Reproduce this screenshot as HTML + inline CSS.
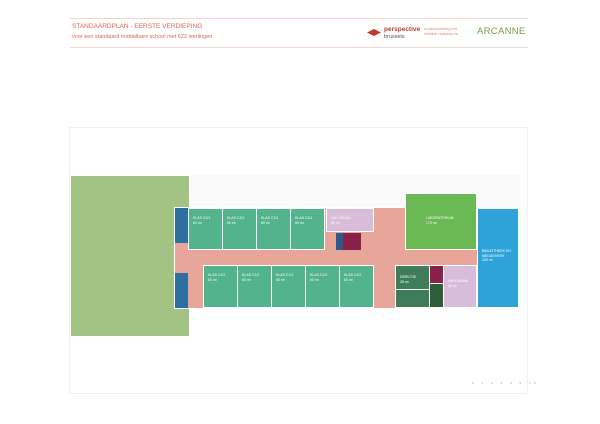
<!DOCTYPE html>
<html><head><meta charset="utf-8"><style>
body{margin:0;width:600px;height:424px;background:#fff;position:relative;overflow:hidden;font-family:"Liberation Sans",sans-serif}
div{position:absolute;box-sizing:border-box}
.r{color:#fff;font-size:3.5px;line-height:4.5px;padding:7px 0 0 4px}
.c{background:#52b38c;border:1px solid #fff}
</style></head><body>
<div style="left:70px;top:18px;width:458px;height:1px;background:#f2d6d4"></div>
<div style="left:70px;top:47px;width:458px;height:1px;background:#f2d6d4"></div>
<div style="left:72px;top:23px;font-size:6.5px;color:#d9655a">STANDAARDPLAN - EERSTE VERDIEPING</div>
<div style="left:72px;top:34px;font-size:5.5px;color:#d9655a">voor een standaard middelbare school met 622 leerlingen</div>
<div style="left:367px;top:29px;width:14px;height:7px;background:#c0392b;clip-path:polygon(50% 0,100% 50%,50% 100%,0 50%)"></div>
<div style="left:384px;top:26px;font-size:6.5px;color:#c0392b;font-weight:bold">perspective</div>
<div style="left:384px;top:34px;font-size:5.5px;color:#555">brussels</div>
<div style="left:424px;top:27px;font-size:3.5px;color:#e08a80;line-height:5px">in samenwerking met<br>Mathilde Haskamp ea</div>
<div style="left:477px;top:26px;font-size:9.5px;color:#7a9a4a;letter-spacing:0.3px">ARCANNE</div>
<div style="left:69px;top:127px;width:459px;height:267px;border:1px solid #f0f0f0"></div>
<div style="left:190px;top:175px;width:330px;height:33px;background:#fafafa"></div>
<div style="left:71px;top:176px;width:118px;height:160px;background:#a3c385"></div>
<div style="left:174px;top:207px;width:304px;height:102px;background:#e8a59a;border:1px solid #fff"></div>
<div style="left:175px;top:208px;width:13px;height:35px;background:#2c6fa0"></div>
<div style="left:175px;top:273px;width:13px;height:35px;background:#2c6fa0"></div>
<div class="c r" style="left:188px;top:208px;width:35px;height:42px">KLAS C2/1<br>60 m²</div>
<div class="c r" style="left:222px;top:208px;width:35px;height:42px">KLAS C2/1<br>60 m²</div>
<div class="c r" style="left:256px;top:208px;width:35px;height:42px">KLAS C2/1<br>60 m²</div>
<div class="c r" style="left:290px;top:208px;width:35px;height:42px">KLAS C2/1<br>60 m²</div>
<div class="r" style="left:326px;top:208px;width:48px;height:24px;background:#d9bcd9;border:1px solid #fff">VAKLOKAAL<br>60 m²</div>
<div style="left:336px;top:233px;width:7px;height:17px;background:#2c5a8a"></div>
<div style="left:343px;top:233px;width:18px;height:17px;background:#8a1f4a"></div>
<div class="c r" style="left:203px;top:265px;width:35px;height:43px">KLAS C1/2<br>60 m²</div>
<div class="c r" style="left:237px;top:265px;width:35px;height:43px">KLAS C1/2<br>60 m²</div>
<div class="c r" style="left:271px;top:265px;width:35px;height:43px">KLAS C1/2<br>60 m²</div>
<div class="c r" style="left:305px;top:265px;width:35px;height:43px">KLAS C1/2<br>60 m²</div>
<div class="c r" style="left:339px;top:265px;width:35px;height:43px">KLAS C1/2<br>60 m²</div>
<div class="r" style="left:405px;top:193px;width:72px;height:57px;background:#6ab955;border:1px solid #fff;padding:22px 0 0 20px">LABORATORIUM<br>170 m²</div>
<div class="r" style="left:477px;top:208px;width:42px;height:100px;background:#2ea3d9;border:1px solid #fff;padding:40px 0 0 4px">BIBLIOTHEEK EN<br>MEDIATHEEK<br>220 m²</div>
<div class="r" style="left:395px;top:265px;width:35px;height:25px;background:#3f7d5a;border:1px solid #fff;padding:9px 0 0 4px">DIRECTIE<br>25 m²</div>
<div style="left:395px;top:289px;width:35px;height:19px;background:#3f7d5a;border:1px solid #fff"></div>
<div style="left:429px;top:265px;width:15px;height:19px;background:#8a1f4a;border:1px solid #fff"></div>
<div style="left:429px;top:283px;width:15px;height:25px;background:#2d5e3a;border:1px solid #fff"></div>
<div class="r" style="left:443px;top:265px;width:34px;height:43px;background:#d9bcd9;border:1px solid #fff;padding:13px 0 0 4px">VAKLOKAAL<br>60 m²</div>
<div style="left:472px;top:381px;font-size:3px;color:#999;letter-spacing:3.5px">0 1 2 3 4 5 10</div>
</body></html>
